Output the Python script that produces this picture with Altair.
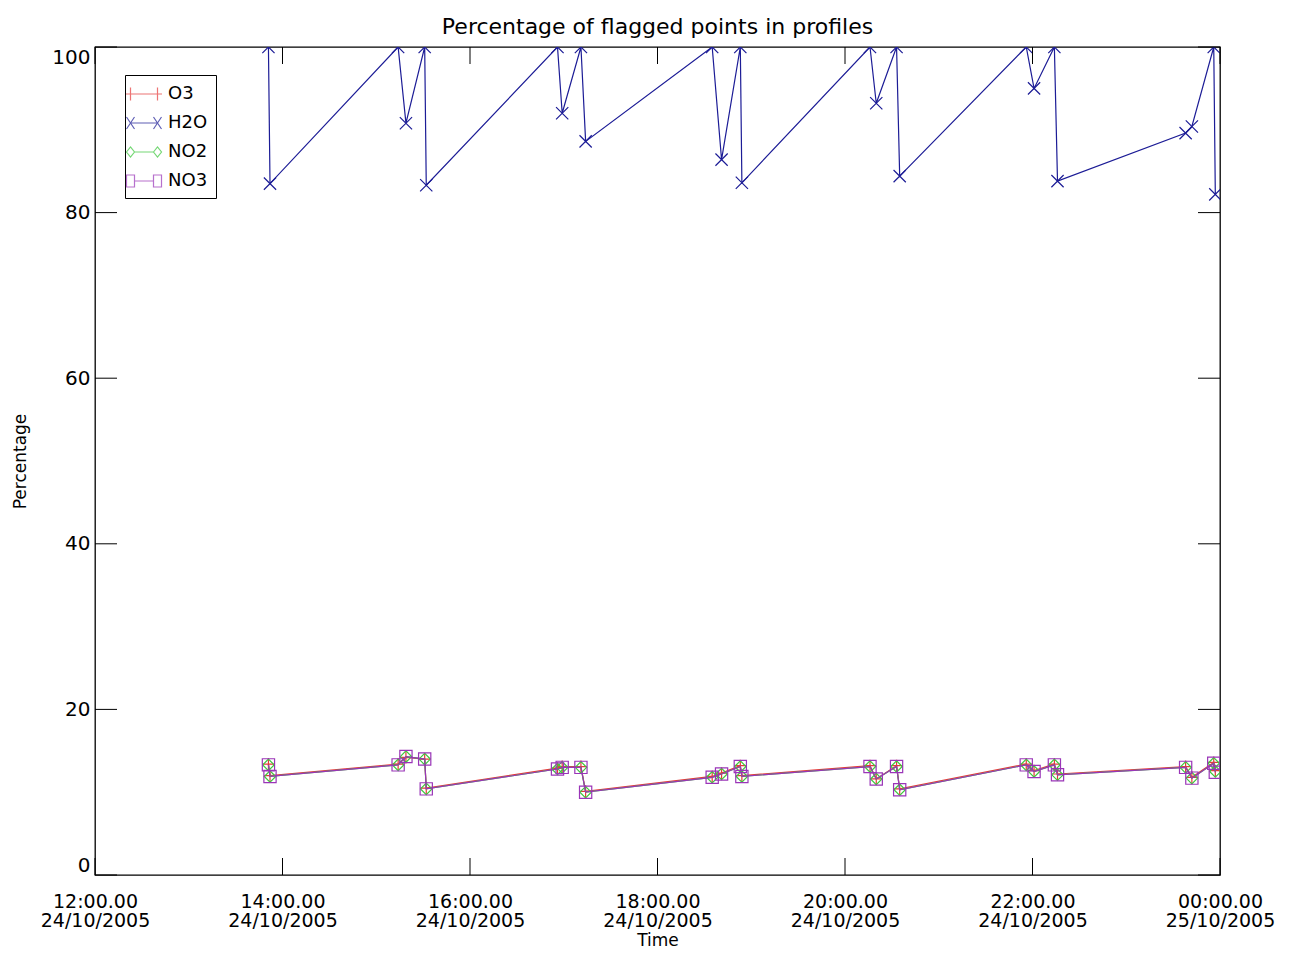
import altair as alt
import pandas as pd

# ---- data ----
times = ["13:51", "13:52", "15:14", "15:19", "15:31", "15:32",
         "16:56", "16:59", "17:11", "17:14", "18:35", "18:41",
         "18:53", "18:54", "20:16", "20:20", "20:33", "20:35",
         "21:56", "22:01", "22:14", "22:16", "23:38", "23:42",
         "23:56", "23:57"]
h2o = [100, 83.5, 100, 90.8, 100, 83.3,
       100, 92.0, 100, 88.6, 100, 86.4,
       100, 83.6, 100, 93.2, 100, 84.4,
       100, 95.0, 100, 83.8, 89.6, 90.4,
       100, 82.2]
o3 = [13.4, 12.0, 13.4, 14.2, 14.0, 10.5,
      12.9, 13.1, 13.1, 10.1, 11.9, 12.3,
      13.2, 12.0, 13.2, 11.6, 13.2, 10.4,
      13.4, 12.6, 13.4, 12.2, 13.1, 11.8,
      13.6, 12.6]
no2 = [13.3, 11.9, 13.3, 14.3, 14.0, 10.4,
       12.8, 13.0, 13.0, 10.0, 11.8, 12.2,
       13.1, 11.9, 13.1, 11.6, 13.1, 10.3,
       13.3, 12.5, 13.3, 12.1, 13.0, 11.7,
       13.5, 12.5]
no3 = [13.3, 11.9, 13.3, 14.3, 14.0, 10.4,
       12.8, 13.0, 13.0, 10.0, 11.8, 12.2,
       13.1, 11.9, 13.1, 11.6, 13.1, 10.3,
       13.3, 12.5, 13.3, 12.1, 13.0, 11.7,
       13.5, 12.4]

series_names = ["O3", "H2O", "NO2", "NO3"]
series_colors = ["#e63a3a", "#1c1c96", "#3cc83c", "#9a35b8"]

x_tick_days = [24, 24, 24, 24, 24, 24, 25]
x_tick_hours = [12, 14, 16, 18, 20, 22, 0]
y_ticks = [0, 20, 40, 60, 80, 100]

# ---- tables ----
stamps = ["2005-10-24T" + t + ":00" for t in times]
df = pd.DataFrame({
    "time": stamps * 4,
    "value": o3 + h2o + no2 + no3,
    "series": sum([[s] * len(times) for s in series_names], []),
})
xt = pd.DataFrame({"time": ["2005-10-%02dT%02d:00:00" % (d, h)
                            for d, h in zip(x_tick_days, x_tick_hours)]})
yt = pd.DataFrame({"value": y_ticks})

FONT = "DejaVu Sans"
W, H = 1125, 828

x_scale = alt.Scale(domain=[alt.DateTime(year=2005, month=10, date=24, hours=12),
                            alt.DateTime(year=2005, month=10, date=25, hours=0)])
y_scale = alt.Scale(domain=[0, 100])

x_enc = alt.X(
    "time:T", scale=x_scale, title="Time",
    axis=alt.Axis(
        values=[alt.DateTime(year=2005, month=10, date=d, hours=h)
                for d, h in zip(x_tick_days, x_tick_hours)],
        labelExpr="[timeFormat(datum.value, '%H:%M.%S'), timeFormat(datum.value, '%d/%m/%Y')]",
        grid=False, ticks=False, domain=False,
        labelFont=FONT, labelFontSize=19, labelColor="black",
        labelPadding=17, labelLineHeight=19.5, labelFlush=False,
        labelOverlap=False, labelBound=False,
        titleFont=FONT, titleFontSize=17, titleFontWeight="normal",
        titleColor="black", titlePadding=2,
    ),
)
y_enc = alt.Y(
    "value:Q", scale=y_scale, title="Percentage",
    axis=alt.Axis(
        values=y_ticks, grid=False, ticks=False, domain=False,
        labelFont=FONT, labelFontSize=20, labelColor="black",
        labelPadding=5, labelFlush=True,
        titleFont=FONT, titleFontSize=17, titleFontWeight="normal",
        titleColor="black", titlePadding=22,
    ),
)

base = alt.Chart(df)

marker_paths = {
    "O3": "M-1,0H1M0,-1V1",
    "H2O": "M-1,-1L1,1M-1,1L1,-1",
    "NO2": "diamond",
    "NO3": "square",
}
marker_sizes = {"O3": 144, "H2O": 150, "NO2": 130, "NO3": 150}

layers = []
for name, color in zip(series_names, series_colors):
    sub = base.transform_filter(alt.datum.series == name)
    layers.append(sub.mark_line(color=color, strokeWidth=1.2, clip=True)
                  .encode(x=x_enc, y=y_enc))
    layers.append(sub.mark_point(shape=marker_paths[name], size=marker_sizes[name],
                                 color=color, filled=False, strokeWidth=1.2,
                                 opacity=1, clip=True)
                  .encode(x=x_enc, y=y_enc))

# legend-only layer (no visible marks); symbols drawn as line + two markers
legend_paths = [
    "M-1.8,0H1.8M-1.35,-0.65V0.65M1.35,-0.65V0.65",
    "M-1.35,0H1.35M-1.75,-0.6L-0.95,0.6M-1.75,0.6L-0.95,-0.6M0.95,-0.6L1.75,0.6M0.95,0.6L1.75,-0.6",
    "M-0.95,0H0.95M-1.75,0L-1.35,-0.5L-0.95,0L-1.35,0.5ZM0.95,0L1.35,-0.5L1.75,0L1.35,0.5Z",
    "M-0.95,0H0.95M-1.75,-0.6H-0.95V0.6H-1.75ZM0.95,-0.6H1.75V0.6H0.95Z",
]
leg = alt.Legend(orient="none", legendX=30, legendY=28, strokeColor="black",
                 fillColor="white", padding=8, symbolSize=400,
                 symbolStrokeWidth=1.2, labelFont=FONT, labelFontSize=18,
                 labelColor="black", labelOffset=13, rowPadding=9,
                 labelExpr="datum.label + '   '")
legend_layer = base.transform_filter("false").mark_point(size=400, filled=False).encode(
    x=x_enc, y=y_enc,
    color=alt.Color("series:N", scale=alt.Scale(domain=series_names, range=series_colors),
                    title=None, legend=leg),
    shape=alt.Shape("series:N", scale=alt.Scale(domain=series_names, range=legend_paths),
                    title=None, legend=leg),
)
layers.append(legend_layer)

# inward ticks on all four sides
tick_col = "black"
layers.append(alt.Chart(xt).mark_rule(color=tick_col, strokeWidth=1).encode(
    x=alt.X("time:T", scale=x_scale), y=alt.value(H), y2=alt.value(H - 17)))
layers.append(alt.Chart(xt).mark_rule(color=tick_col, strokeWidth=1).encode(
    x=alt.X("time:T", scale=x_scale), y=alt.value(0), y2=alt.value(17)))
layers.append(alt.Chart(yt).mark_rule(color=tick_col, strokeWidth=1).encode(
    y=alt.Y("value:Q", scale=y_scale), x=alt.value(0), x2=alt.value(22)))
layers.append(alt.Chart(yt).mark_rule(color=tick_col, strokeWidth=1).encode(
    y=alt.Y("value:Q", scale=y_scale), x=alt.value(W), x2=alt.value(W - 22)))

chart = alt.layer(*layers).properties(
    width=W, height=H,
    title=alt.TitleParams("Percentage of flagged points in profiles", font=FONT,
                          fontSize=22, fontWeight="normal", color="black",
                          offset=8, anchor="middle"),
    autosize=alt.AutoSizeParams(type="none"),
    padding={"left": 87, "top": 39, "right": 68, "bottom": 75},
    background="white",
).configure_view(stroke="black", strokeWidth=1.3)

chart.save("out.html", embed_options={"renderer": "svg", "actions": False})
